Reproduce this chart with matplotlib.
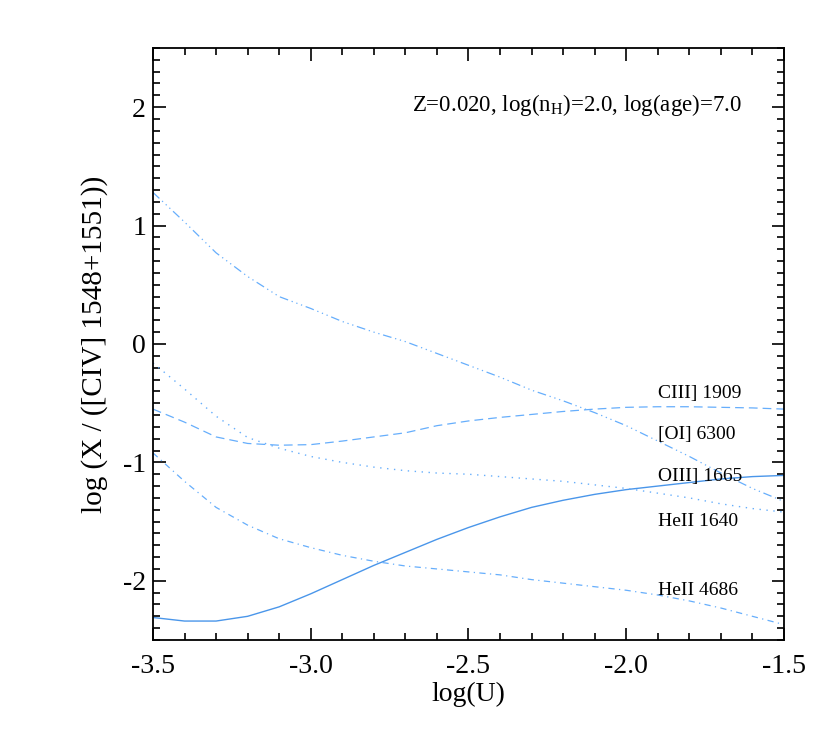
import matplotlib.pyplot as plt
from matplotlib.ticker import MultipleLocator, FuncFormatter

plt.rcParams['font.family'] = ['Liberation Serif', 'DejaVu Serif']
plt.rcParams['axes.unicode_minus'] = False
plt.rcParams['mathtext.fontset'] = 'custom'
plt.rcParams['mathtext.rm'] = 'Liberation Serif'

# log(U) grid and line ratios
log_u = [-3.5, -3.4, -3.3, -3.2, -3.1, -3.0, -2.9, -2.8, -2.7, -2.6, -2.5,
         -2.4, -2.3, -2.2, -2.1, -2.0, -1.9, -1.8, -1.7, -1.6, -1.5]
solid = [-2.31, -2.34, -2.34, -2.30, -2.22, -2.11, -1.99, -1.87, -1.76, -1.65, -1.55,
         -1.46, -1.38, -1.32, -1.27, -1.23, -1.20, -1.17, -1.14, -1.12, -1.11]
dashed = [-0.55, -0.66, -0.785, -0.84, -0.855, -0.85, -0.82, -0.785, -0.75, -0.69, -0.65,
          -0.62, -0.595, -0.57, -0.55, -0.535, -0.53, -0.53, -0.535, -0.54, -0.55]
dotted = [-0.16, -0.38, -0.61, -0.79, -0.88, -0.95, -1.00, -1.04, -1.07, -1.09, -1.10,
          -1.12, -1.14, -1.16, -1.19, -1.22, -1.26, -1.30, -1.35, -1.39, -1.42]
dashdot = [-0.92, -1.16, -1.38, -1.53, -1.645, -1.72, -1.785, -1.835, -1.875, -1.90, -1.925,
           -1.95, -1.99, -2.02, -2.05, -2.08, -2.12, -2.17, -2.23, -2.30, -2.37]
dash3dot = [1.28, 1.03, 0.77, 0.57, 0.40, 0.30, 0.19, 0.10, 0.02, -0.08, -0.18,
            -0.28, -0.39, -0.48, -0.58, -0.69, -0.82, -0.95, -1.09, -1.22, -1.33]

line_names = ["CIII] 1909", "[OI] 6300", "OIII] 1665", "HeII 1640", "HeII 4686"]
name_y = [-0.46, -0.80, -1.16, -1.54, -2.12]

fig = plt.figure(figsize=(8.3, 7.38), dpi=100)
ax = fig.add_axes([0.1843, 0.1328, 0.7603, 0.8022])

blue = '#4a96ea'
light = '#66aefc'
ax.plot(log_u, solid, color=blue, lw=1.0)
ax.plot(log_u, dashed, color=light, lw=0.9, dashes=(7, 4))
ax.plot(log_u, dotted, color=light, lw=1.0, dashes=(1, 4))
ax.plot(log_u, dashdot, color=light, lw=0.9, dashes=(5, 3.5, 1, 3.5))
ax.plot(log_u, dash3dot, color=light, lw=0.9, dashes=(7, 3, 1, 3, 1, 3, 1, 3))

for name, y in zip(line_names, name_y):
    ax.text(-1.90, y, name, fontsize=14, ha='left', va='baseline')

ax.text(-2.68, 1.965, r'Z=0.020, log(n$_\mathregular{H}$)=2.0, log(age)=7.0',
        fontsize=16.5, ha='left', va='baseline')

ax.set_xlim(-3.5, -1.5)
ax.set_ylim(-2.5, 2.5)
ax.xaxis.set_major_locator(MultipleLocator(0.5))
ax.xaxis.set_minor_locator(MultipleLocator(0.1))
ax.yaxis.set_major_locator(MultipleLocator(1))
ax.yaxis.set_minor_locator(MultipleLocator(0.1))
ax.xaxis.set_major_formatter(FuncFormatter(lambda v, p: '%.1f' % v))
ax.yaxis.set_major_formatter(FuncFormatter(lambda v, p: '%d' % round(v)))
ax.tick_params(which='both', direction='in', top=True, right=True, width=1.2, labelsize=20)
ax.tick_params(which='major', length=9)
ax.tick_params(which='minor', length=5)
ax.tick_params(axis='x', pad=10)
ax.tick_params(axis='y', pad=5)
for s in ax.spines.values():
    s.set_linewidth(1.3)

ax.set_xlabel('log(U)', fontsize=20, labelpad=2)
ax.set_ylabel('log (X / ([CIV] 1548+1551))', fontsize=21, labelpad=11)

fig.savefig('out.png', dpi=100)
